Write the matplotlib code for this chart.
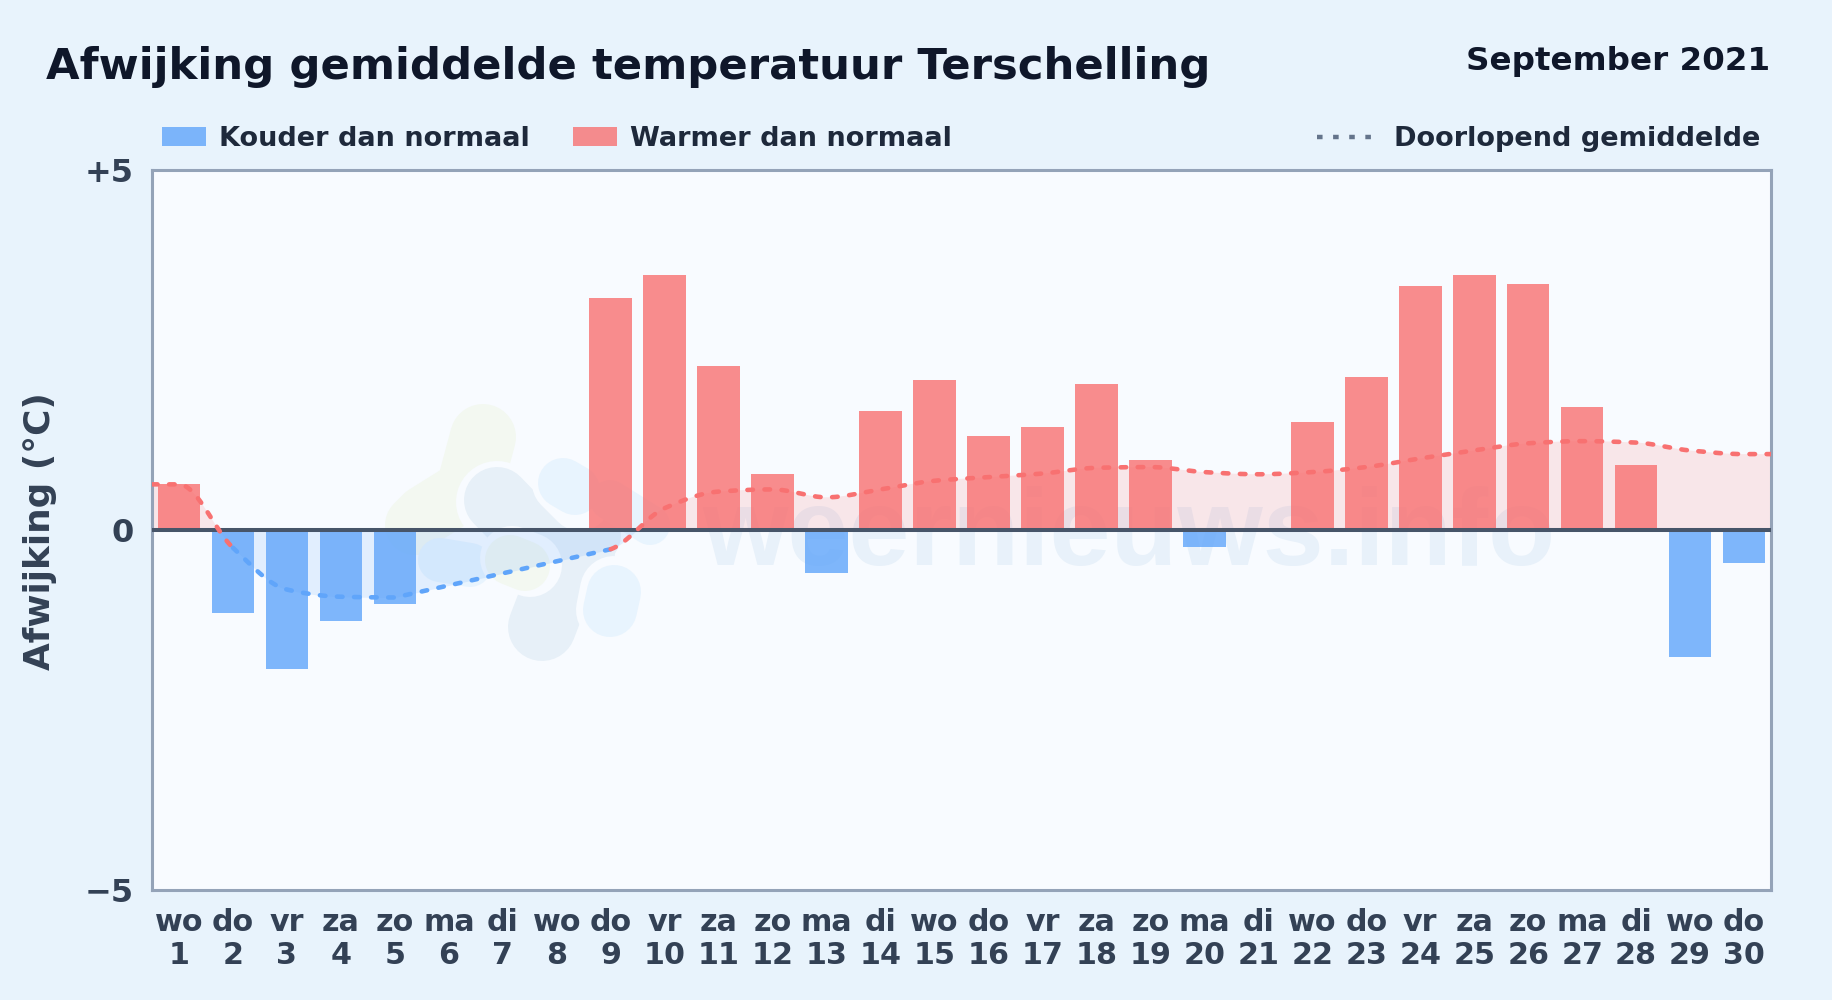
import numpy as np
import matplotlib
matplotlib.use("Agg")
import matplotlib.pyplot as plt
from matplotlib.patches import Rectangle
from matplotlib.lines import Line2D
from matplotlib.transforms import IdentityTransform

# afwijking per dag, gelezen uit de grafiek
weekdays = ["wo", "do", "vr", "za", "zo", "ma", "di", "wo", "do", "vr", "za", "zo", "ma", "di", "wo",
            "do", "vr", "za", "zo", "ma", "di", "wo", "do", "vr", "za", "zo", "ma", "di", "wo", "do"]
days = list(range(1, 31))
anomaly = [0.63, -1.15, -1.93, -1.26, -1.03, np.nan, np.nan, np.nan, 3.22, 3.53, 2.27, 0.78, -0.60, 1.65, 2.08,
           1.30, 1.43, 2.02, 0.97, -0.24, np.nan, 1.50, 2.12, 3.38, 3.53, 3.41, 1.71, 0.90, -1.76, -0.46]
running = [0.63, -0.25, -0.83, -0.93, -0.94, np.nan, np.nan, np.nan, -0.27, 0.30, 0.53, 0.56, 0.45, 0.56, 0.68,
           0.73, 0.78, 0.86, 0.87, 0.80, 0.77, 0.80, 0.87, 0.99, 1.10, 1.20, 1.23, 1.21, 1.10, 1.05]

W, H = 1832, 1000
COLD = "#60a5fa"
WARM = "#f87171"
BG = "#e8f3fc"
PANEL = "#f8fbff"
DARK = "#0f172a"
TEXT = "#1e293b"
AXTEXT = "#334155"

plt.rcParams["font.family"] = ["DejaVu Sans"]
plt.rcParams["font.weight"] = "bold"
plt.rcParams["lines.scale_dashes"] = False


def px(x, y):
    return x / W, 1 - y / H


def monotone(xk, yk, gaps, n=40):
    # monotone cubic through the knots, straight over missing days
    h = np.diff(xk)
    s = np.diff(yk) / h
    m = np.zeros(len(xk))
    for i in range(1, len(xk) - 1):
        if s[i - 1] * s[i] > 0:
            m[i] = 2 * s[i - 1] * s[i] / (s[i - 1] + s[i])
    xs, ys = [], []
    for i in range(len(h)):
        t = np.linspace(0, 1, n)
        if gaps[i]:
            y = yk[i] + t * (yk[i + 1] - yk[i])
        else:
            y = ((2 * t**3 - 3 * t**2 + 1) * yk[i] + (t**3 - 2 * t**2 + t) * h[i] * m[i]
                 + (-2 * t**3 + 3 * t**2) * yk[i + 1] + (t**3 - t**2) * h[i] * m[i + 1])
        xs.append(xk[i] + t * h[i])
        ys.append(y)
    return xs, ys


fig = plt.figure(figsize=(W / 100, H / 100), dpi=100, facecolor=BG)
ax = fig.add_axes([152 / W, 1 - 890 / H, (1771 - 152) / W, (890 - 169.5) / H], facecolor=PANEL)

centers = np.arange(len(days)) + 0.5
vals = np.array(anomaly)
run = np.array(running)

# watermark logo, thick round strokes in pixel coordinates
GREEN_W = "#f3f8f1"
GREY_W = "#e7f0f8"
BLUE_W = "#e8f4fe"
blobs = [
    (GREEN_W, 66, [(483, 437), (472, 478)]),
    (GREEN_W, 60, [(465, 490), (425, 515), (415, 525)]),
    (PANEL, 82, [(497, 502), (525, 535)]),
    (GREY_W, 66, [(497, 500), (528, 532)]),
    (GREY_W, 62, [(530, 530), (590, 535)]),
    (GREY_W, 50, [(530, 560), (590, 555)]),
    (GREY_W, 68, [(560, 580), (542, 627)]),
    (BLUE_W, 44, [(440, 560), (470, 565)]),
    (PANEL, 62, [(563, 483), (580, 500)]),
    (BLUE_W, 50, [(563, 483), (575, 490)]),
    (BLUE_W, 40, [(610, 500), (650, 525)]),
    (PANEL, 68, [(610, 610), (614, 590)]),
    (BLUE_W, 54, [(610, 610), (614, 592)]),
    (PANEL, 64, [(512, 558), (530, 565)]),
    (GREEN_W, 50, [(510, 560), (525, 566)]),
]
for color, size, pts in blobs:
    bx = [p[0] for p in pts]
    by = [H - p[1] for p in pts]
    ax.add_line(Line2D(bx, by, color=color, lw=size * 0.72, solid_capstyle="round", solid_joinstyle="round",
                       transform=IdentityTransform(), zorder=1))
ax.text(1129, H - 565, "weernieuws.info", color="#e8f1fa", fontsize=79, fontweight="bold",
        family="Liberation Sans", ha="center", va="baseline", zorder=1.5, transform=IdentityTransform())

# knots with the line running on to both edges
valid = ~np.isnan(run)
xk = np.concatenate(([0], centers[valid], [len(days)]))
yk = np.concatenate(([run[valid][0]], run[valid], [run[valid][-1]]))
gaps = np.diff(xk) > 1.01
xs, ys = monotone(xk, yk, gaps)
xall = np.concatenate(xs)
yall = np.concatenate(ys)
ax.fill_between(xall, yall, 0, where=yall >= 0, interpolate=True, color=WARM, alpha=0.15, lw=0, zorder=2)
ax.fill_between(xall, yall, 0, where=yall <= 0, interpolate=True, color=COLD, alpha=0.15, lw=0, zorder=2)

bar_colors = [COLD if v < 0 else WARM for v in np.nan_to_num(vals)]
ax.bar(centers, np.nan_to_num(vals), width=0.79, color=bar_colors, alpha=0.8, lw=0, zorder=3)
ax.axhline(0, color="#475569", lw=2.9, zorder=4)

# a stretch is blue only where both ends lie below zero
cold_seg = [(yk[i] < 0 and yk[i + 1] < 0) for i in range(len(xs))]
start = 0
for i in range(1, len(xs) + 1):
    if i == len(xs) or cold_seg[i] != cold_seg[start]:
        ax.plot(np.concatenate(xs[start:i]), np.concatenate(ys[start:i]),
                color=COLD if cold_seg[start] else WARM, lw=3.3, dashes=(4, 8.3),
                dash_capstyle="round", zorder=5)
        start = i

ax.set_xlim(0, len(days))
ax.set_ylim(-5, 5)
ax.set_yticks([-5, 0, 5])
ax.set_yticklabels(["\u22125", "0", "+5"])
ax.set_xticks(centers)
ax.set_xticklabels([f"{w}\n{d}" for w, d in zip(weekdays, days)], linespacing=1.19)
ax.tick_params(axis="x", length=0, labelsize=21.7, labelcolor=AXTEXT, pad=12.8)
ax.tick_params(axis="y", length=0, labelsize=23, labelcolor=AXTEXT, pad=13)
for spine in ax.spines.values():
    spine.set_color("#94a3b8")
    spine.set_linewidth(2.2)

fig.text(*px(40, 531), "Afwijking (\u00b0C)", rotation=90, color=AXTEXT, fontsize=25.8, ha="center", va="center")
fig.text(*px(46, 79), "Afwijking gemiddelde temperatuur Terschelling", color=DARK, fontsize=31.25,
         ha="left", va="baseline")
fig.text(*px(1770, 70), "September 2021", color=DARK, fontsize=23.4, ha="right", va="baseline")

# legend
for x0, color, label, tx in [(162, COLD, "Kouder dan normaal", 219), (573, WARM, "Warmer dan normaal", 630)]:
    fig.add_artist(Rectangle(px(x0, 146), 44 / W, 19 / H, transform=fig.transFigure, color=color, alpha=0.8, lw=0))
    fig.text(*px(tx, 146), label, color=TEXT, fontsize=19.5, ha="left", va="baseline")
lx0, ly = px(1317, 137)
lx1, _ = px(1372, 137)
fig.add_artist(Line2D([lx0, lx1], [ly, ly], transform=fig.transFigure, color="#64748b", lw=3.2, dashes=(4, 7.6)))
fig.text(*px(1394, 146), "Doorlopend gemiddelde", color=TEXT, fontsize=19.5, ha="left", va="baseline")

fig.savefig("out.png", dpi=100, facecolor=BG)
